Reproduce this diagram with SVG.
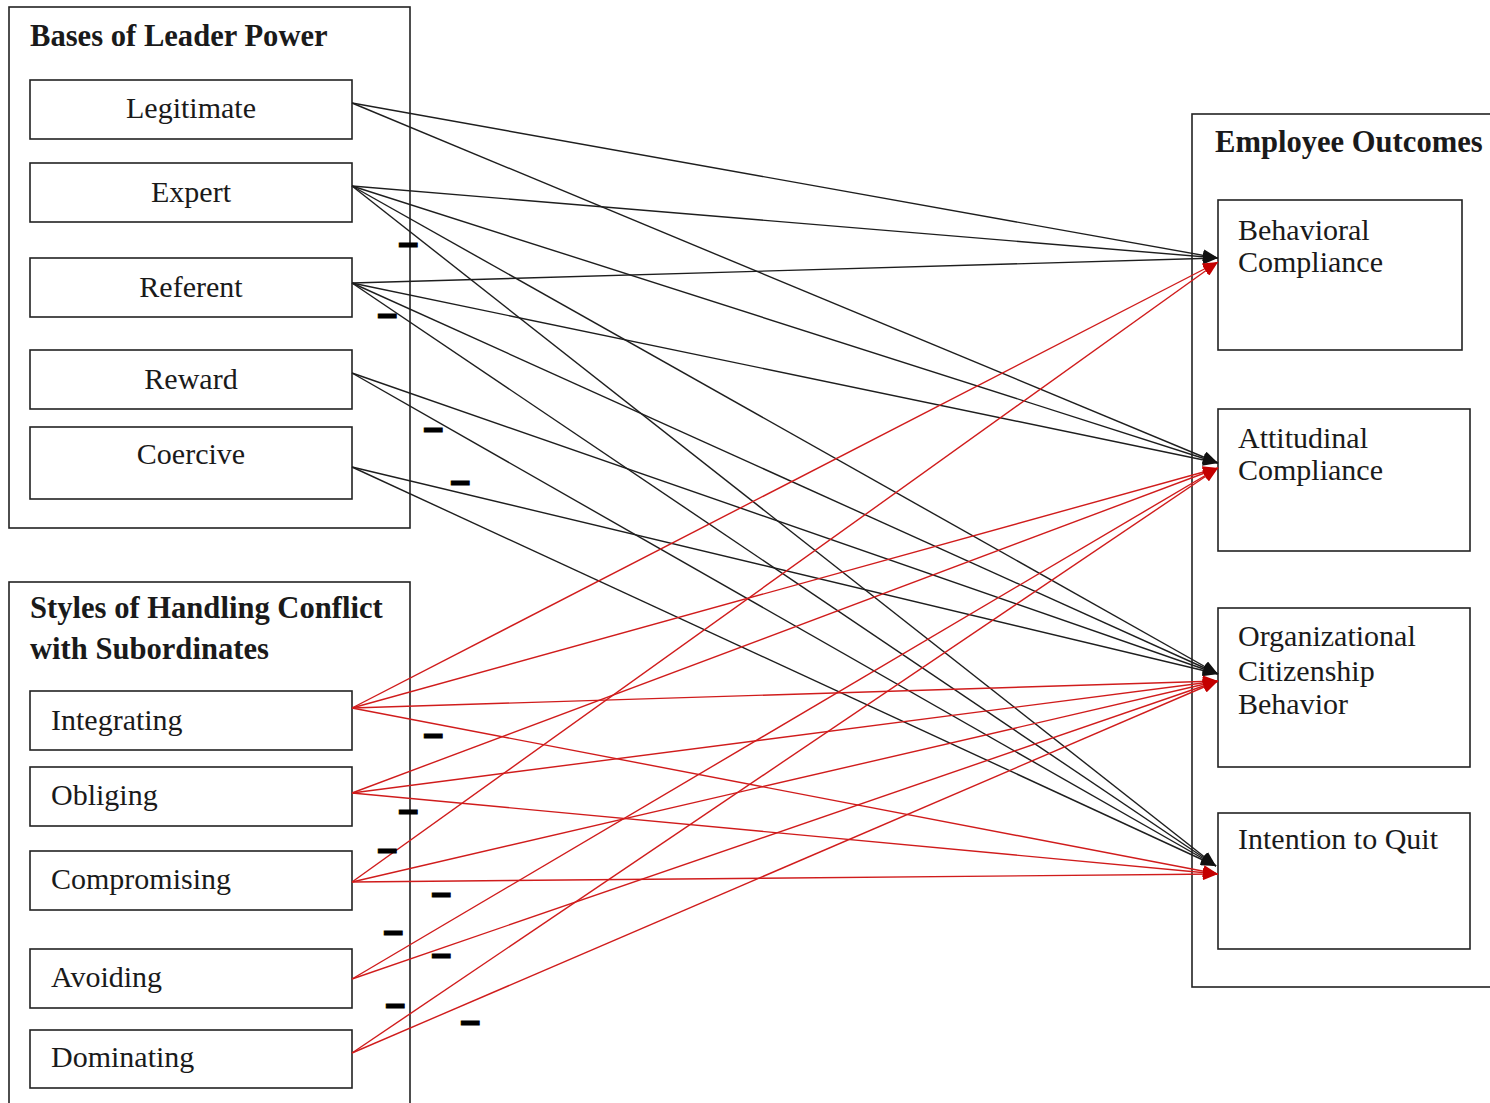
<svg xmlns="http://www.w3.org/2000/svg" width="1490" height="1103" viewBox="0 0 1490 1103">
<style>
.frame{fill:none;stroke:#222;stroke-width:1.6}
.box{fill:#fff;stroke:#222;stroke-width:1.6}
.t{font-family:"Liberation Serif","Times New Roman",serif;font-size:30px;fill:#1a1a1a}
.c{text-anchor:middle}
.b{font-weight:bold;font-size:30.6px}
.k{stroke:#1e1e1e;stroke-width:1.4;fill:none;marker-end:url(#ak)}
.r{stroke:#d01c1c;stroke-width:1.4;fill:none;marker-end:url(#ar)}
.m{font-family:"Liberation Sans",Arial,sans-serif;font-size:36px;font-weight:bold;fill:#000;stroke:#000;stroke-width:0.9;text-anchor:middle}
</style>
<defs>
<marker id="ak" markerUnits="userSpaceOnUse" markerWidth="15" markerHeight="12" refX="15" refY="6" orient="auto"><path d="M0,0 L15,6 L0,12 z" fill="#111"/></marker>
<marker id="ar" markerUnits="userSpaceOnUse" markerWidth="15" markerHeight="12" refX="15" refY="6" orient="auto"><path d="M0,0 L15,6 L0,12 z" fill="#c40000"/></marker>
</defs>
<rect width="1490" height="1103" fill="#fff"/>

<g id="bases-group">
<rect class="frame" x="9" y="7" width="401" height="521"/>
<text class="t b" x="30" y="46">Bases of Leader Power</text>
</g>
<g id="legitimate"><rect class="box" x="30" y="80" width="322" height="59"/><text class="t c" x="191" y="118">Legitimate</text></g>
<g id="expert"><rect class="box" x="30" y="163" width="322" height="59"/><text class="t c" x="191" y="202">Expert</text></g>
<g id="referent"><rect class="box" x="30" y="258" width="322" height="59"/><text class="t c" x="191" y="297">Referent</text></g>
<g id="reward"><rect class="box" x="30" y="350" width="322" height="59"/><text class="t c" x="191" y="389">Reward</text></g>
<g id="coercive"><rect class="box" x="30" y="427" width="322" height="72"/><text class="t c" x="191" y="464">Coercive</text></g>

<g id="styles-group">
<rect class="frame" x="9" y="582" width="401" height="540"/>
<text class="t b" x="30" y="618">Styles of Handling Conflict</text>
<text class="t b" x="30" y="659">with Subordinates</text>
</g>
<g id="integrating"><rect class="box" x="30" y="691" width="322" height="59"/><text class="t" x="51" y="730">Integrating</text></g>
<g id="obliging"><rect class="box" x="30" y="767" width="322" height="59"/><text class="t" x="51" y="805">Obliging</text></g>
<g id="compromising"><rect class="box" x="30" y="851" width="322" height="59"/><text class="t" x="51" y="889">Compromising</text></g>
<g id="avoiding"><rect class="box" x="30" y="949" width="322" height="59"/><text class="t" x="51" y="987">Avoiding</text></g>
<g id="dominating"><rect class="box" x="30" y="1030" width="322" height="58"/><text class="t" x="51" y="1067">Dominating</text></g>

<g id="outcomes-group">
<rect class="frame" x="1192" y="114" width="320" height="873"/>
<text class="t b" x="1215" y="152">Employee Outcomes</text>
</g>
<g id="behavioral"><rect class="box" x="1218" y="200" width="244" height="150"/><text class="t" x="1238" y="240">Behavioral</text><text class="t" x="1238" y="272">Compliance</text></g>
<g id="attitudinal"><rect class="box" x="1218" y="409" width="252" height="142"/><text class="t" x="1238" y="448">Attitudinal</text><text class="t" x="1238" y="480">Compliance</text></g>
<g id="ocb"><rect class="box" x="1218" y="608" width="252" height="159"/><text class="t" x="1238" y="646">Organizational</text><text class="t" x="1238" y="681">Citizenship</text><text class="t" x="1238" y="714">Behavior</text></g>
<g id="intention"><rect class="box" x="1218" y="813" width="252" height="136"/><text class="t" x="1238" y="849">Intention to Quit</text></g>

<g id="connectors">
<line class="k" x1="352" y1="103" x2="1218" y2="258"/>
<line class="k" x1="352" y1="103" x2="1218" y2="463"/>
<line class="k" x1="352" y1="186" x2="1218" y2="258"/>
<line class="k" x1="352" y1="186" x2="1218" y2="463"/>
<line class="k" x1="352" y1="186" x2="1218" y2="674"/>
<line class="k" x1="352" y1="186" x2="1216" y2="866"/>
<line class="k" x1="352" y1="283" x2="1218" y2="258"/>
<line class="k" x1="352" y1="283" x2="1218" y2="463"/>
<line class="k" x1="352" y1="283" x2="1218" y2="674"/>
<line class="k" x1="352" y1="283" x2="1216" y2="866"/>
<line class="k" x1="352" y1="373" x2="1218" y2="674"/>
<line class="k" x1="352" y1="373" x2="1216" y2="866"/>
<line class="k" x1="352" y1="467" x2="1218" y2="674"/>
<line class="k" x1="352" y1="467" x2="1216" y2="866"/>
<line class="r" x1="352" y1="708" x2="1218" y2="262"/>
<line class="r" x1="352" y1="708" x2="1218" y2="468"/>
<line class="r" x1="352" y1="708" x2="1218" y2="681"/>
<line class="r" x1="352" y1="708" x2="1218" y2="874"/>
<line class="r" x1="352" y1="793" x2="1218" y2="468"/>
<line class="r" x1="352" y1="793" x2="1218" y2="681"/>
<line class="r" x1="352" y1="793" x2="1218" y2="874"/>
<line class="r" x1="352" y1="882" x2="1218" y2="262"/>
<line class="r" x1="352" y1="882" x2="1218" y2="681"/>
<line class="r" x1="352" y1="882" x2="1218" y2="874"/>
<line class="r" x1="352" y1="979" x2="1218" y2="468"/>
<line class="r" x1="352" y1="979" x2="1218" y2="681"/>
<line class="r" x1="352" y1="1053" x2="1218" y2="468"/>
<line class="r" x1="352" y1="1053" x2="1218" y2="681"/>
</g>

<g id="signs">
<text class="m" x="408" y="257">−</text>
<text class="m" x="387" y="328">−</text>
<text class="m" x="433" y="442">−</text>
<text class="m" x="460" y="495">−</text>
<text class="m" x="433" y="748">−</text>
<text class="m" x="408" y="824">−</text>
<text class="m" x="387" y="863">−</text>
<text class="m" x="441" y="907">−</text>
<text class="m" x="393" y="945">−</text>
<text class="m" x="441" y="968">−</text>
<text class="m" x="395" y="1018">−</text>
<text class="m" x="470" y="1035">−</text>
</g>
</svg>
